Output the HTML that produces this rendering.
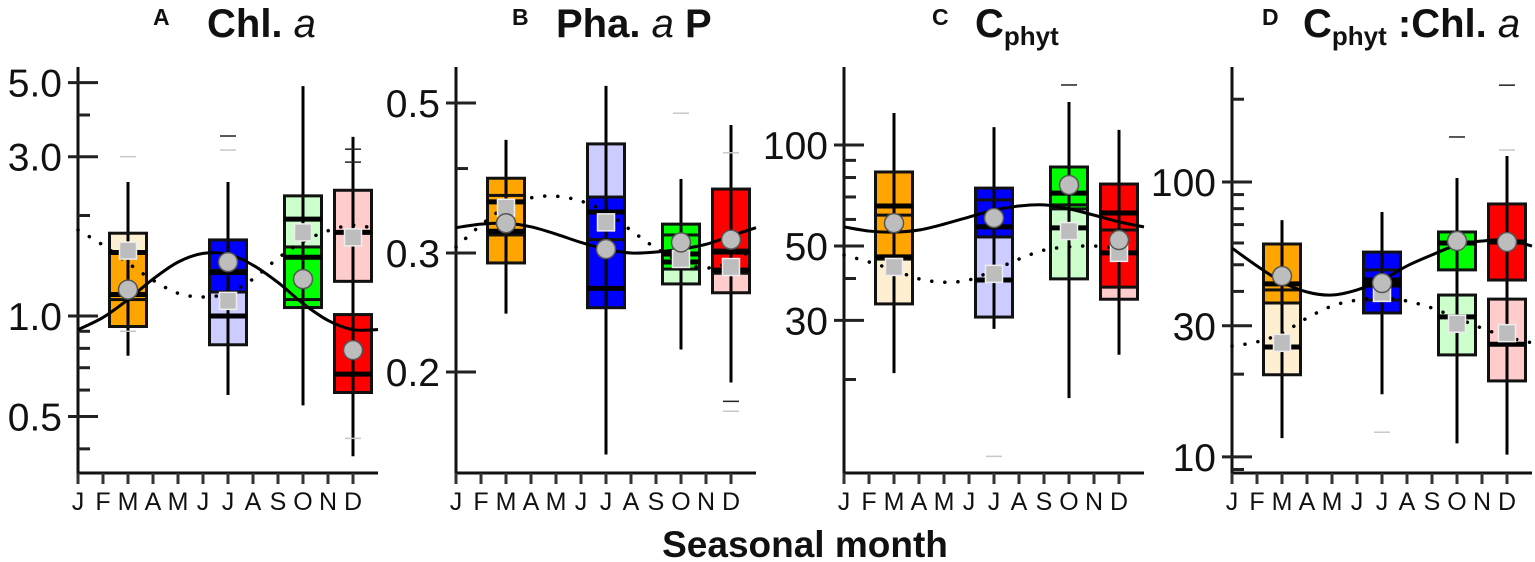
<!DOCTYPE html>
<html><head><meta charset="utf-8"><style>
html,body{margin:0;padding:0;background:#fff;}
svg{display:block;font-family:"Liberation Sans",sans-serif;}
</style></head><body>
<svg id="chart" width="1535" height="562" viewBox="0 0 1535 562" xmlns="http://www.w3.org/2000/svg">
<g font-weight="bold" fill="#111">
<text x="153" y="25" font-size="23">A</text>
<text x="207" y="37" font-size="40">Chl. <tspan font-style="italic" font-weight="normal">a</tspan></text>
<text x="512" y="25" font-size="23">B</text>
<text x="556" y="37" font-size="40">Pha. <tspan font-style="italic" font-weight="normal">a</tspan> P</text>
<text x="932" y="25" font-size="23">C</text>
<text x="975" y="37" font-size="40">C<tspan font-size="26" dy="8">phyt</tspan></text>
<text x="1262" y="25" font-size="23">D</text>
<text x="1303" y="37" font-size="40">C<tspan font-size="26" dy="8">phyt</tspan><tspan dy="-8"> :Chl. </tspan><tspan font-style="italic" font-weight="normal">a</tspan></text>
</g>
<text x="805" y="557" font-size="37" font-weight="bold" text-anchor="middle" fill="#111">Seasonal month</text>
</svg>
<script>
// ---------- shared ----------
const monthLabels = ["J","F","M","A","M","J","J","A","S","O","N","D"];
const boxMonths = [2, 6, 9, 11];

// ---------- Panel A: Chl. a ----------
const aMajorTicks = [5.0, 3.0, 1.0, 0.5];
const aMajorLabels = ["5.0", "3.0", "1.0", "0.5"];
const aMinorTicks = [4, 2, 0.9, 0.8, 0.7, 0.6, 0.4];
const aDarkQ3 = [1.55, 1.69, 1.61, 1.01];
const aDarkMed = [1.16, 1.35, 1.50, 0.67];
const aDarkQ1 = [0.93, 1.18, 1.06, 0.59];
const aDarkMean = [1.20, 1.45, 1.29, 0.79];
const aLightQ3 = [1.77, 1.37, 2.29, 2.38];
const aLightMed = [1.55, 1.00, 1.95, 1.78];
const aLightQ1 = [1.12, 0.82, 1.12, 1.27];
const aLightMean = [1.57, 1.11, 1.78, 1.72];
const aWhiskHi = [2.52, 2.52, 4.88, 3.44];
const aWhiskLo = [0.76, 0.58, 0.54, 0.38];
const aOutDark = [[6, 3.46], [11, 3.16], [11, 2.89]];
const aOutLight = [[2, 3.0], [2, 0.90], [6, 3.14], [11, 0.43]];
const aSolid = [0.91, 0.99, 1.12, 1.29, 1.45, 1.54, 1.53, 1.42, 1.26, 1.09, 0.97, 0.91, 0.91];
const aDotted = [1.81, 1.63, 1.44, 1.28, 1.17, 1.14, 1.17, 1.29, 1.49, 1.67, 1.80, 1.87, 1.82];

// ---------- Panel B: Pha. a P ----------
const bMajorTicks = [0.5, 0.3, 0.2];
const bMajorLabels = ["0.5", "0.3", "0.2"];
const bMinorTicks = [0.4];
const bDarkQ3 = [0.387, 0.363, 0.331, 0.373];
const bDarkMed = [0.323, 0.266, 0.299, 0.301];
const bDarkQ1 = [0.290, 0.249, 0.284, 0.280];
const bDarkMean = [0.332, 0.304, 0.311, 0.314];
const bLightQ3 = [0.365, 0.435, 0.319, 0.303];
const bLightMed = [0.357, 0.345, 0.291, 0.283];
const bLightQ1 = [0.319, 0.314, 0.270, 0.262];
const bLightMean = [0.350, 0.333, 0.294, 0.286];
const bWhiskHi = [0.441, 0.530, 0.386, 0.464];
const bWhiskLo = [0.244, 0.151, 0.216, 0.193];
const bOutDark = [[11, 0.181]];
const bOutLight = [[9, 0.483], [11, 0.422], [11, 0.175]];
const bSolid = [0.327, 0.331, 0.332, 0.328, 0.320, 0.311, 0.304, 0.300, 0.301, 0.304, 0.309, 0.318, 0.327];
const bDotted = [0.306, 0.330, 0.351, 0.362, 0.364, 0.358, 0.345, 0.324, 0.305, 0.291, 0.285, 0.291, 0.306];

// ---------- Panel C: C phyt ----------
const cMajorTicks = [100, 50, 30];
const cMajorLabels = ["100", "50", "30"];
const cMinorTicks = [90, 80, 70, 60, 40, 20];
const cDarkQ3 = [83.1, 74.4, 86.0, 76.5];
const cDarkMed = [65.8, 57.0, 71.9, 62.7];
const cDarkQ1 = [45.7, 53.2, 64.5, 37.7];
const cDarkMean = [58.5, 60.6, 76.0, 52.1];
const cLightQ3 = [61.8, 68.6, 66.3, 55.8];
const cLightMed = [46.4, 39.6, 56.6, 47.7];
const cLightQ1 = [33.6, 30.7, 39.9, 34.7];
const cLightMean = [43.3, 41.3, 55.4, 47.7];
const cWhiskHi = [124.6, 113.1, 134.3, 110.9];
const cWhiskLo = [20.9, 28.3, 17.6, 23.7];
const cOutDark = [[9, 151]];
const cOutLight = [[6, 11.8]];
const cSolid = [57.0, 55.4, 55.0, 55.8, 58.1, 61.0, 64.0, 65.8, 66.3, 64.5, 61.8, 59.0, 57.0];
const cDotted = [47.0, 44.8, 42.4, 39.9, 39.0, 39.6, 42.4, 45.7, 48.6, 49.7, 50.0, 49.0, 47.3];

// ---------- Panel D: C phyt : Chl. a ----------
const dMajorTicks = [100, 30, 10];
const dMajorLabels = ["100", "30", "10"];
const dMinorTicks = [200, 90, 80, 70, 60, 50, 40, 20, 9];
const dDarkQ3 = [59.5, 55.6, 65.8, 83.2];
const dDarkMed = [42.6, 44.0, 60.0, 60.5];
const dDarkQ1 = [36.3, 33.4, 47.9, 44.0];
const dDarkMean = [45.5, 42.9, 61.0, 60.5];
const dLightQ3 = [40.5, 47.9, 38.8, 37.5];
const dLightMed = [25.1, 42.2, 32.3, 25.7];
const dLightQ1 = [19.9, 37.2, 23.5, 18.9];
const dLightMean = [26.0, 39.5, 30.5, 28.2];
const dWhiskHi = [72.7, 77.8, 103.4, 124.3];
const dWhiskLo = [11.7, 16.9, 11.2, 10.2];
const dOutDark = [[9, 145.8], [11, 225]];
const dOutLight = [[6, 12.3], [11, 130.7]];
const dSolid = [57.5, 49.5, 43.3, 39.8, 38.8, 40.5, 44.0, 49.5, 54.3, 59.0, 61.0, 61.5, 58.5];
const dDotted = [25.3, 26.2, 28.2, 32.0, 35.4, 37.2, 37.9, 36.9, 34.8, 32.0, 29.4, 27.3, 26.0];

const darkColors = ["#FFA500", "#0000FF", "#00FF00", "#FF0000"];
const lightColors = ["#FFEFD1", "#CCCCFF", "#CCFFCC", "#FFCCCC"];

const NS = "http://www.w3.org/2000/svg";
const svg = document.getElementById("chart");
function mk(tag, attrs, parent) {
  const e = document.createElementNS(NS, tag);
  for (const k in attrs) e.setAttribute(k, attrs[k]);
  (parent || svg).appendChild(e);
  return e;
}

function drawPanel(cfg, d) {
  const g = mk("g", {});
  
  
  const yOf = v => cfg.refY - cfg.k * Math.log(v / cfg.refVal);
  const xOf = m => cfg.axisX + 25 * m;
  const bottom = 473, top = 67, hw = 18.5;

  const ya = mk("line", {x1: cfg.axisX, y1: top, x2: cfg.axisX, y2: bottom + 1, stroke: "#111", "stroke-width": 3}, g);
  
  
  const xa = mk("line", {x1: cfg.axisX - 1, y1: bottom, x2: cfg.axisX + 300, y2: bottom, stroke: "#111", "stroke-width": 3}, g);
  
  
  monthLabels.forEach((lab, i) => {
    const t = mk("line", {x1: xOf(i), y1: bottom, x2: xOf(i), y2: bottom + 11, stroke: "#333", "stroke-width": 3}, g);
    
    
    const tx = mk("text", {x: xOf(i), y: 510, "font-size": 25, "text-anchor": "middle", fill: "#111"}, g);
    
    
    tx.textContent = lab;
  });
  d.major.forEach((v, i) => {
    const y = yOf(v);
    const t = mk("line", {x1: cfg.axisX - 10, y1: y, x2: cfg.axisX + 20, y2: y, stroke: "#222", "stroke-width": 3}, g);
    
    
    const tx = mk("text", {x: cfg.axisX - 16, y: y + 14, "font-size": 39, "text-anchor": "end", fill: "#111"}, g);
    
    
    tx.textContent = d.majorLabels[i];
  });
  d.minor.forEach(v => {
    const y = yOf(v);
    const t = mk("line", {x1: cfg.axisX, y1: y, x2: cfg.axisX + 12, y2: y, stroke: "#222", "stroke-width": 3}, g);
    
    
  });

  boxMonths.forEach((m, i) => {
    const cx = xOf(m);
    const bg = mk("g", {}, g);
    
    
    const lt = yOf(d.lQ3[i]), lb = yOf(d.lQ1[i]);
    const dt = yOf(d.dQ3[i]), db = yOf(d.dQ1[i]);
    const lf = mk("rect", {x: cx - hw, y: lt, width: 2 * hw, height: lb - lt, fill: lightColors[i]}, bg);
    
    
    const df = mk("rect", {x: cx - hw, y: dt, width: 2 * hw, height: db - dt, fill: darkColors[i]}, bg);
    
    
    const w = mk("line", {x1: cx, y1: yOf(d.wHi[i]), x2: cx, y2: yOf(d.wLo[i]), stroke: "#000", "stroke-width": 3}, bg);
    
    
    const lo = mk("rect", {x: cx - hw, y: lt, width: 2 * hw, height: lb - lt, fill: "none", stroke: "#111", "stroke-width": 3}, bg);
    
    
    const dO = mk("rect", {x: cx - hw, y: dt, width: 2 * hw, height: db - dt, fill: "none", stroke: "#111", "stroke-width": 3}, bg);
    
    
    const lm = mk("line", {x1: cx - hw, y1: yOf(d.lMed[i]), x2: cx + hw, y2: yOf(d.lMed[i]), stroke: "#000", "stroke-width": 5}, bg);
    
    
    const dm = mk("line", {x1: cx - hw, y1: yOf(d.dMed[i]), x2: cx + hw, y2: yOf(d.dMed[i]), stroke: "#000", "stroke-width": 5}, bg);
    
    
  });

  d.outD.forEach(o => {
    const y = yOf(o[1]);
    const l = mk("line", {x1: xOf(o[0]) - 8, y1: y, x2: xOf(o[0]) + 8, y2: y, stroke: "#222", "stroke-width": 1.5}, g);
    
    
  });
  d.outL.forEach(o => {
    const y = yOf(o[1]);
    const l = mk("line", {x1: xOf(o[0]) - 8, y1: y, x2: xOf(o[0]) + 8, y2: y, stroke: "#c8c8c8", "stroke-width": 1.5}, g);
    
    
  });

  function path(vals) {
    const pts = vals.map((v, i) => [xOf(i), yOf(v)]);
    let s = "M" + pts[0][0] + "," + pts[0][1];
    for (let i = 0; i < pts.length - 1; i++) {
      const p0 = pts[Math.max(0, i - 1)], p1 = pts[i], p2 = pts[i + 1], p3 = pts[Math.min(pts.length - 1, i + 2)];
      const c1 = [p1[0] + (p2[0] - p0[0]) / 6, p1[1] + (p2[1] - p0[1]) / 6];
      const c2 = [p2[0] - (p3[0] - p1[0]) / 6, p2[1] - (p3[1] - p1[1]) / 6];
      s += " C" + c1[0] + "," + c1[1] + " " + c2[0] + "," + c2[1] + " " + p2[0] + "," + p2[1];
    }
    return s;
  }
  const sp = mk("path", {d: path(d.solid), fill: "none", stroke: "#000", "stroke-width": 3}, g);
  
  
  const dp = mk("path", {d: path(d.dotted), fill: "none", stroke: "#000", "stroke-width": 3.5, "stroke-dasharray": "0.1 13", "stroke-linecap": "round"}, g);
  
  

  boxMonths.forEach((m, i) => {
    const cx = xOf(m);
    const y = yOf(d.lMean[i]);
    const sq = mk("rect", {x: cx - 8.5, y: y - 8.5, width: 17, height: 17, fill: "#bdbdbd", stroke: "#eee", "stroke-width": 1.5}, g);
    
    
    const c = mk("circle", {cx: cx, cy: yOf(d.dMean[i]), r: 9.5, fill: "#bdbdbd", stroke: "#555", "stroke-width": 1.5}, g);
    
    
  });
}

drawPanel({name: "panel-a-chl-a", axisX: 78, k: 145, refVal: 1.0, refY: 316},
  {major: aMajorTicks, majorLabels: aMajorLabels, minor: aMinorTicks, dQ3: aDarkQ3, dMed: aDarkMed, dQ1: aDarkQ1, dMean: aDarkMean,
   lQ3: aLightQ3, lMed: aLightMed, lQ1: aLightQ1, lMean: aLightMean, wHi: aWhiskHi, wLo: aWhiskLo, outD: aOutDark, outL: aOutLight, solid: aSolid, dotted: aDotted});
drawPanel({name: "panel-b-pha-a-p", axisX: 456, k: 293.6, refVal: 0.3, refY: 253},
  {major: bMajorTicks, majorLabels: bMajorLabels, minor: bMinorTicks, dQ3: bDarkQ3, dMed: bDarkMed, dQ1: bDarkQ1, dMean: bDarkMean,
   lQ3: bLightQ3, lMed: bLightMed, lQ1: bLightQ1, lMean: bLightMean, wHi: bWhiskHi, wLo: bWhiskLo, outD: bOutDark, outL: bOutLight, solid: bSolid, dotted: bDotted});
drawPanel({name: "panel-c-cphyt", axisX: 844, k: 145.7, refVal: 50, refY: 246},
  {major: cMajorTicks, majorLabels: cMajorLabels, minor: cMinorTicks, dQ3: cDarkQ3, dMed: cDarkMed, dQ1: cDarkQ1, dMean: cDarkMean,
   lQ3: cLightQ3, lMed: cLightMed, lQ1: cLightQ1, lMean: cLightMean, wHi: cWhiskHi, wLo: cWhiskLo, outD: cOutDark, outL: cOutLight, solid: cSolid, dotted: cDotted});
drawPanel({name: "panel-d-cphyt-chl-ratio", axisX: 1232, k: 119.4, refVal: 100, refY: 182},
  {major: dMajorTicks, majorLabels: dMajorLabels, minor: dMinorTicks, dQ3: dDarkQ3, dMed: dDarkMed, dQ1: dDarkQ1, dMean: dDarkMean,
   lQ3: dLightQ3, lMed: dLightMed, lQ1: dLightQ1, lMean: dLightMean, wHi: dWhiskHi, wLo: dWhiskLo, outD: dOutDark, outL: dOutLight, solid: dSolid, dotted: dDotted});
</script>
</body></html>
